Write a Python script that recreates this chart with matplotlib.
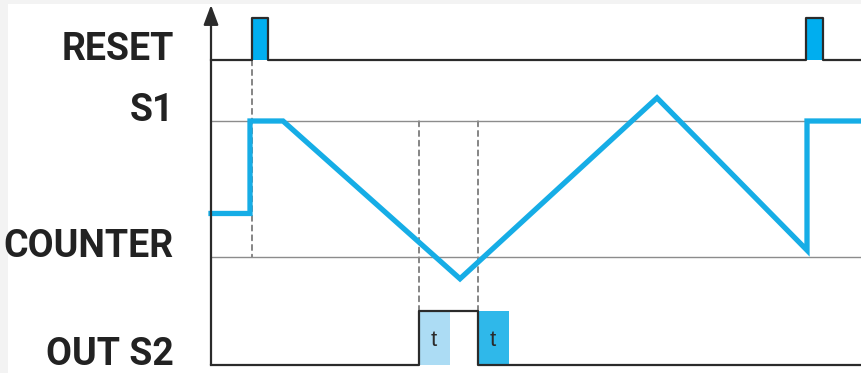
import matplotlib
matplotlib.use("Agg")
from matplotlib import pyplot as plt
from matplotlib.patches import ConnectionPatch, Rectangle

# Timing diagram data (time in arbitrary units, 0 = vertical axis)
t_end = 651

# RESET pulses: (start, stop)
reset_pulses = [(41, 57), (595, 612)]

# COUNTER trace: S1 preset = 100, COUNTER threshold = 0
counter_t = [0, 39, 39, 72, 249, 446, 596, 596, 651]
counter_v = [32, 32, 100, 100, -16, 117, 5, 100, 100]
s1_level = 100
counter_level = 0

# OUT S2: output high interval and the two "t" delay windows
out_high = (208, 267)
t_windows = [(208, 239), (267, 298)]

row_labels = ["RESET", "S1", "COUNTER", "OUT S2"]

# colours
BLUE = "#16ade6"
RESET_FILL = "#00aeef"
T_LIGHT = "#acdcf4"
T_DARK = "#2fb8ea"
DARK = "#2b2b2b"
GREY = "#8c8c8c"

W, H = 862, 373
fig = plt.figure(figsize=(W / 100, H / 100), dpi=100)
fig.patch.set_facecolor("#f3f3f3")
fig.add_artist(Rectangle((8 / W, 0), 1, (H - 4) / H, transform=fig.transFigure,
                         facecolor="white", edgecolor="none", zorder=-10))

x0, x1 = 211, 862


def row_axes(y_top, y_bottom):
    ax = fig.add_axes([x0 / W, (H - y_bottom) / H, (x1 - x0) / W, (y_bottom - y_top) / H])
    ax.set_xlim(0, t_end)
    ax.axis("off")
    ax.patch.set_alpha(0)
    return ax


ax_reset = row_axes(18, 60)
ax_reset.set_ylim(0, 1)
ax_cnt = row_axes(121, 257)
ax_cnt.set_ylim(counter_level, s1_level)
ax_out = row_axes(311, 365)
ax_out.set_ylim(0, 1)

# RESET signal
rt, rv = [0], [0]
for a, b in reset_pulses:
    rt += [a, a, b, b]
    rv += [0, 1, 1, 0]
    ax_reset.fill_between([a, b], 0, 1, color=RESET_FILL, lw=0, zorder=2)
rt.append(t_end)
rv.append(0)
ax_reset.plot(rt, rv, color=DARK, lw=1.6, clip_on=False, zorder=3)

# S1 / COUNTER reference lines and counter trace
for lvl in (s1_level, counter_level):
    ax_cnt.axhline(lvl, color=GREY, lw=1.0, clip_on=False, zorder=1)
ax_cnt.plot(counter_t, counter_v, color=BLUE, lw=3.8, clip_on=False,
            solid_joinstyle="miter", zorder=3)

# OUT S2
for (a, b), c in zip(t_windows, [T_LIGHT, T_DARK]):
    ax_out.fill_between([a, b], 0, 1, color=c, lw=0, zorder=1)
    ax_out.text((a + b) / 2 - 1, 0.45, "t", ha="center", va="center",
                fontsize=16, color=DARK, family="Liberation Sans")
ot = [0, out_high[0], out_high[0], out_high[1], out_high[1], t_end]
ov = [0, 0, 1, 1, 0, 0]
ax_out.plot(ot, ov, color=DARK, lw=1.6, clip_on=False, zorder=3)

# dashed guide lines
dash = dict(color="#555555", lw=1.0, linestyle=(0, (4, 3)), zorder=0)
fig.add_artist(ConnectionPatch((reset_pulses[0][0], 0), (reset_pulses[0][0], counter_level),
                               coordsA=ax_reset.transData, coordsB=ax_cnt.transData, **dash))
for t in out_high:
    fig.add_artist(ConnectionPatch((t, s1_level), (t, 1),
                                   coordsA=ax_cnt.transData, coordsB=ax_out.transData, **dash))

# vertical axis with arrow
ax_out.annotate("", xy=(0, (H - 5) / H), xycoords=("data", "figure fraction"),
                xytext=(0, 0), textcoords="data",
                arrowprops=dict(arrowstyle="-|>,head_length=1.2,head_width=0.45",
                                color=DARK, lw=1.6, shrinkA=0, shrinkB=0))

# row labels, baseline on each row's reference line
anchors = [(ax_reset, 0), (ax_cnt, s1_level), (ax_cnt, counter_level), (ax_out, 0)]
for name, (ax, lvl) in zip(row_labels, anchors):
    ax.annotate(name, xy=(0, lvl), xycoords="data", xytext=(-37, 0),
                textcoords="offset pixels", ha="right", va="baseline",
                fontsize=27, fontweight="bold", color="#222222",
                family=["Roboto", "Liberation Sans"])

fig.savefig("out.png", dpi=100)
